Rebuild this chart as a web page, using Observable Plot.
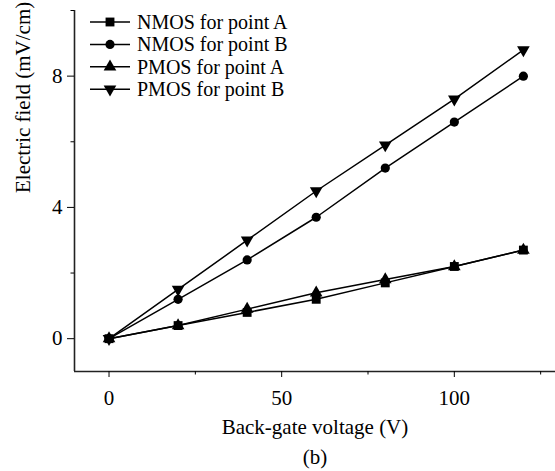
<!DOCTYPE html>
<html><head><meta charset="utf-8">
<script src="https://cdn.jsdelivr.net/npm/d3@7"></script>
<script src="https://cdn.jsdelivr.net/npm/@observablehq/plot@0.6"></script>
<style>
body{margin:0;background:#fff}
#c{position:relative;width:555px;height:471px}
#legend{position:absolute;left:0;top:0}
</style>
</head><body><div id="c"></div>
<script>
const voltage = [0, 20, 40, 60, 80, 100, 120];
const nmosA = [0, 0.4, 0.8, 1.2, 1.7, 2.2, 2.7];
const nmosB = [0, 1.2, 2.4, 3.7, 5.2, 6.6, 8.0];
const pmosA = [0, 0.4, 0.9, 1.4, 1.8, 2.2, 2.7];
const pmosB = [0, 1.5, 3.0, 4.5, 5.9, 7.3, 8.8];
const seriesNames = ["NMOS for point A", "NMOS for point B", "PMOS for point A", "PMOS for point B"];
const xTicks = [0, 50, 100];
const xMinorTicks = [25, 75, 125];
const yTicks = [0, 4, 8];
const yMinorTicks = [2, 6, 10];
const xDomain = [-10, 129.3];
const yDomain = [-1, 10];
const xLabel = "Back-gate voltage (V)";
const yLabel = "Electric field (mV/cm)";
const caption = "(b)";

const seriesValues = [nmosA, nmosB, pmosA, pmosB];
const styles = [
  {symbol: "square", r: 5, rotate: 0},
  {symbol: "circle", r: 4.6, rotate: 0},
  {symbol: "triangle", r: 4.7, rotate: 0},
  {symbol: "triangle", r: 4.7, rotate: 180}
];
const series = seriesNames.map((name, i) =>
  voltage.map((v, j) => ({series: name, x: v, y: seriesValues[i][j]})));

const font = "'Liberation Serif', 'Times New Roman', serif";
const fs = 21;
const marks = [
  Plot.ruleY([yDomain[0]], {stroke: "#222", strokeWidth: 1.6}),
  Plot.ruleX([xDomain[0]], {stroke: "#222", strokeWidth: 1.6}),
  Plot.axisX(xTicks, {tickSize: 6, tickPadding: 13, fontSize: fs, label: null}),
  Plot.axisX(xMinorTicks, {tickSize: 3.5, tickFormat: () => "", label: null}),
  Plot.axisY(yTicks, {tickSize: 7, tickPadding: 5, fontSize: fs, label: null}),
  Plot.axisY(yMinorTicks, {tickSize: 3.5, tickFormat: () => "", label: null}),
  Plot.text([xLabel], {frameAnchor: "bottom", dy: 56, text: d => d, fontSize: fs, lineAnchor: "middle"}),
  Plot.text([caption], {frameAnchor: "bottom", dy: 86, text: d => d, fontSize: fs, lineAnchor: "middle"}),
  Plot.text([yLabel], {frameAnchor: "left", dx: -51, dy: 2, text: d => d, fontSize: fs, rotate: -90, lineAnchor: "middle"})
];
series.forEach((data) => {
  marks.push(Plot.line(data, {x: "x", y: "y", stroke: "black", strokeWidth: 1.5}));
});
series.forEach((data, i) => {
  const s = styles[i];
  marks.push(Plot.dot(data, {x: "x", y: "y", symbol: s.symbol, r: s.r, rotate: s.rotate, fill: "black", stroke: "none"}));
});

const chart = Plot.plot({
  width: 555, height: 471,
  marginLeft: 74, marginRight: 0, marginTop: 10, marginBottom: 100,
  x: {domain: xDomain},
  y: {domain: yDomain},
  style: {fontFamily: font, fontSize: fs + "px", color: "black", background: "white", overflow: "visible"},
  marks
});
const c = document.getElementById("c");
c.appendChild(chart);

// legend overlay
const lg = d3.select(c).append("svg").attr("id", "legend").attr("width", 555).attr("height", 110)
  .style("font-family", font).style("font-size", "20px");
const rowY = [22, 44.4, 66.8, 89.2];
const symMap = {square: d3.symbolSquare, circle: d3.symbolCircle, triangle: d3.symbolTriangle};
seriesNames.forEach((name, i) => {
  const g = lg.append("g").attr("transform", `translate(0,${rowY[i]})`);
  g.append("line").attr("x1", 90).attr("x2", 130).attr("stroke", "black").attr("stroke-width", 1.5);
  const s = styles[i];
  g.append("path").attr("d", d3.symbol(symMap[s.symbol], Math.PI * s.r * s.r)())
    .attr("transform", `translate(110,0) rotate(${s.rotate})`).attr("fill", "black");
  g.append("text").attr("x", 137).attr("dy", "0.35em").text(name);
});
</script>
</body></html>
